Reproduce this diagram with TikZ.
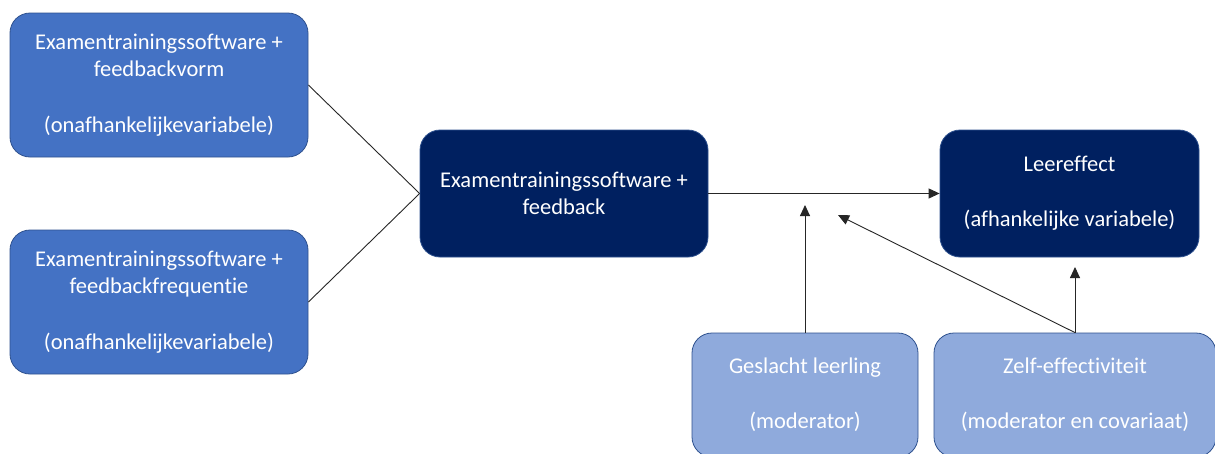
\documentclass[tikz,border=0pt]{standalone}
\usepackage{fontspec}
\setmainfont{Carlito}[Ligatures=NoCommon]
\usetikzlibrary{arrows.meta}
\definecolor{ivblue}{HTML}{4472C4}
\definecolor{dvnavy}{HTML}{002060}
\definecolor{modlight}{HTML}{8FAADC}
\definecolor{boxedge}{HTML}{2F528F}
\definecolor{linkgray}{HTML}{262626}

\tikzset{
  varbox/.style={draw=boxedge, line width=0.8pt, rounded corners=20pt, text=white, align=center,
    font=\fontsize{22.5}{27}\selectfont, inner sep=0pt},
  link/.style={draw=linkgray, line width=0.9pt},
  arrowlink/.style={link, -{Triangle[length=11pt,width=10pt]}}
}

\begin{document}
\begin{tikzpicture}[x=1pt, y=-1pt]
\clip (0,0) rectangle (1215,453);
\fill[white] (0,0) rectangle (1215,453);

\node[varbox, fill=ivblue, minimum width=298pt, minimum height=144pt] (vorm) at (159,85) {Examentrainingssoftware +\\feedbackvorm\\[29pt](onafhankelijkevariabele)};
\node[varbox, fill=ivblue, minimum width=298pt, minimum height=144pt] (freq) at (159,302) {Examentrainingssoftware +\\feedbackfrequentie\\[29pt](onafhankelijkevariabele)};
\node[varbox, fill=dvnavy, minimum width=288pt, minimum height=127pt] (soft) at (564,193.5) {Examentrainingssoftware +\\feedback};
\node[varbox, fill=dvnavy, minimum width=259pt, minimum height=127pt] (leer) at (1069.5,193.5) {Leereffect\\[28pt](afhankelijke variabele)};
\node[varbox, fill=modlight, minimum width=226pt, minimum height=124pt] (gesl) at (805,395) {Geslacht leerling\\[28pt](moderator)};
\node[varbox, fill=modlight, minimum width=282pt, minimum height=124pt] (zelf) at (1075,395) {Zelf-effectiviteit\\[28pt](moderator en covariaat)};

\coordinate (gtip) at (805,205);
\coordinate (ztip) at (838,215);
\coordinate (ltip) at (1075,267);

\draw[link] (vorm.east) -- (soft.west);
\draw[link] (freq.east) -- (soft.west);
\draw[arrowlink] (soft.east) -- (leer.west);
\draw[arrowlink] (gesl.north) -- (gtip);
\draw[arrowlink] (zelf.north) -- (ztip);
\draw[arrowlink] (zelf.north) -- (ltip);
\end{tikzpicture}
\end{document}
